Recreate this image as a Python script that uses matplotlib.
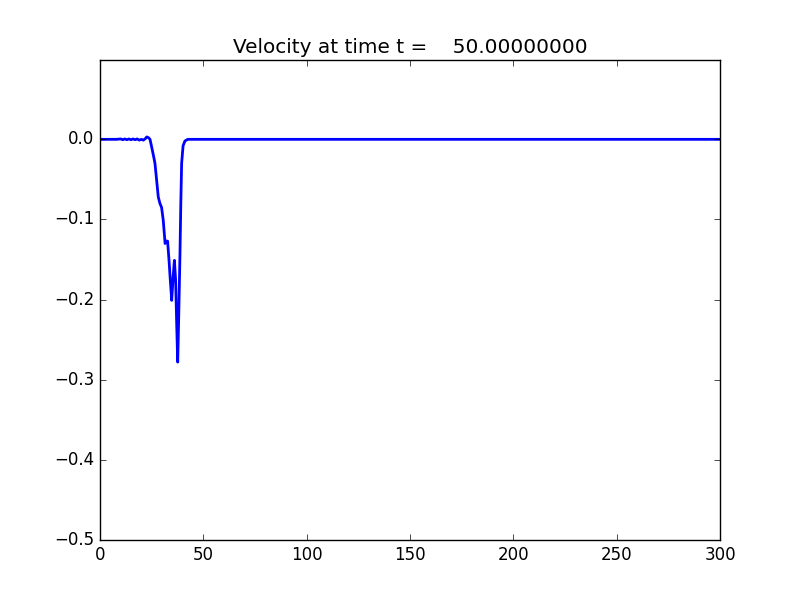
import matplotlib
matplotlib.use("Agg")
import matplotlib.pyplot as plt

plt.style.use("classic")

t_now = 50.0
x = [0, 8, 10, 11, 12, 13, 14, 15, 16, 17, 18, 19, 20, 21, 22, 22.6, 23.5, 24.2,
     25.2, 26.0, 26.6, 27.4, 28.2, 29.0, 29.8, 30.6, 31.5, 32.0, 32.7, 33.4, 34.0,
     34.7, 35.3, 36.0, 36.6, 37.1, 37.6, 38.1, 38.7, 39.1, 39.5, 40.2, 41.1, 42.5,
     45, 60, 100, 150, 200, 250, 300]
v = [0, 0, 0.0005, -0.0005, 0.0005, -0.0005, 0.0005, -0.0005, 0.0005, -0.0005, 0.0005,
     -0.001, 0.0, -0.001, 0.001, 0.003, 0.002, 0.0,
     -0.012, -0.022, -0.030, -0.051, -0.072, -0.080, -0.085, -0.101, -0.130, -0.127,
     -0.127, -0.151, -0.175, -0.201, -0.175, -0.151, -0.176, -0.23, -0.278, -0.22,
     -0.143, -0.08, -0.030, -0.008, -0.002, 0.0,
     0, 0, 0, 0, 0, 0, 0]

fig = plt.figure(figsize=(8, 6), dpi=100)
ax = fig.add_subplot(111)
ax.plot(x, v, color="b", linewidth=2)
ax.set_xlim(0, 300)
ax.set_ylim(-0.5, 0.099)
ax.set_title("Velocity at time t = %14.8f" % t_now)
fig.savefig("out.png", facecolor="white")
